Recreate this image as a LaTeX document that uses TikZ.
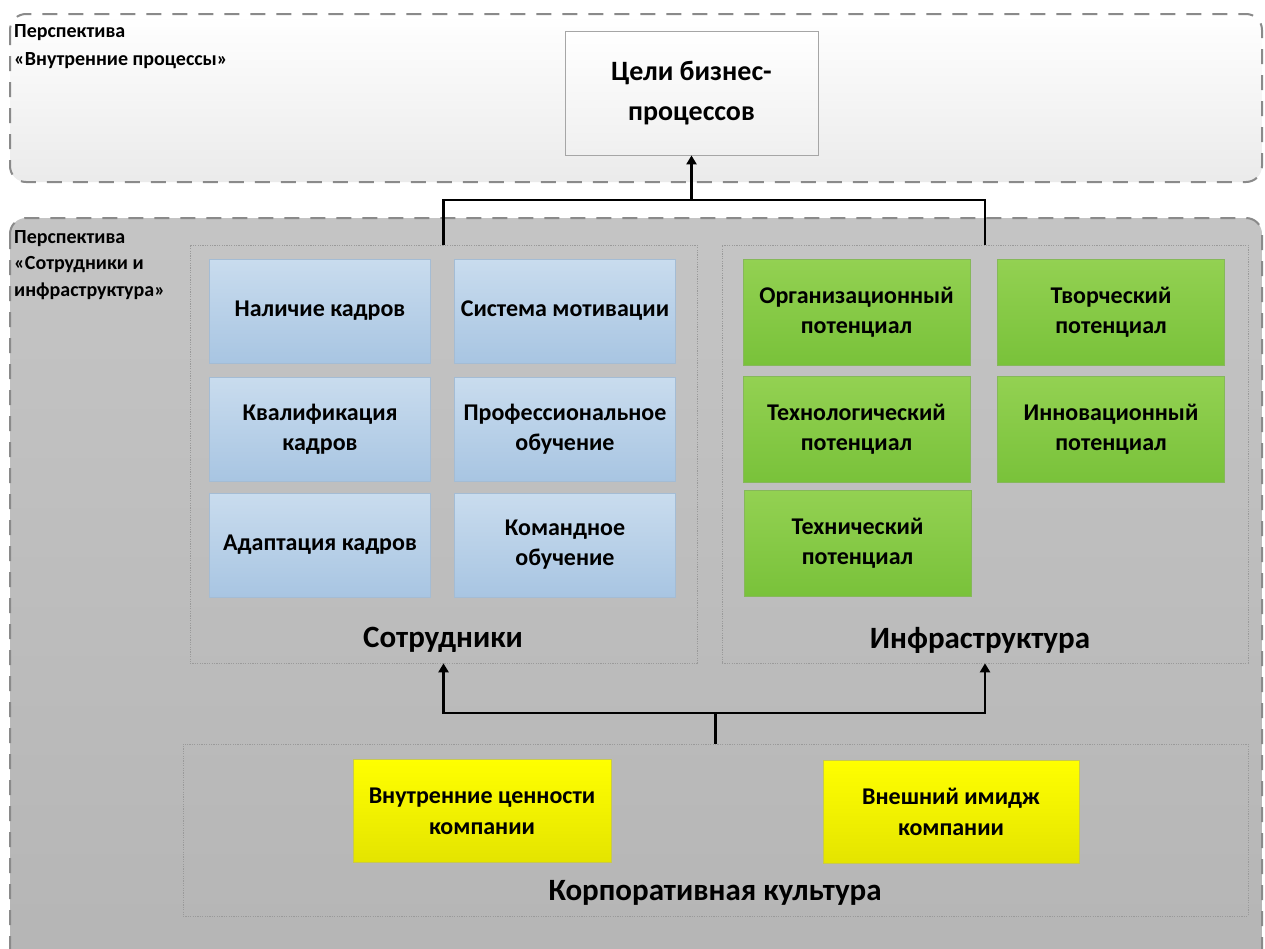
\documentclass[tikz,border=0pt]{standalone}
\usepackage{fontspec}
\setmainfont{Carlito}
\usetikzlibrary{arrows.meta}
\definecolor{panelline}{HTML}{8A8A8A}
\definecolor{frameline}{HTML}{9A9A9A}
\definecolor{bluetop}{HTML}{C9DCEE}
\definecolor{bluebot}{HTML}{A8C5E2}
\definecolor{blueline}{HTML}{A4BCD4}
\definecolor{greentop}{HTML}{93D152}
\definecolor{greenbot}{HTML}{79C23A}
\definecolor{greenline}{HTML}{86B85A}
\definecolor{yeltop}{HTML}{FFFF00}
\definecolor{yelbot}{HTML}{E4E400}
\definecolor{yelline}{HTML}{C8C850}
\begin{document}
\begin{tikzpicture}[x=1pt,y=-1pt,
  panel/.style={draw=panelline,line width=2pt,dash pattern=on 15pt off 11pt,rounded corners=16pt},
  frame/.style={draw=frameline,line width=0.6pt,dash pattern=on 1.2pt off 1.2pt,inner sep=0pt},
  boxtext/.style={align=center,font=\fontsize{24}{30}\selectfont\bfseries,inner sep=2pt},
  bluebox/.style={boxtext,draw=blueline,line width=0.8pt,top color=bluetop,bottom color=bluebot,minimum width=221pt,minimum height=104pt},
  greenbox/.style={boxtext,draw=greenline,line width=0.8pt,top color=greentop,bottom color=greenbot,minimum width=227pt,minimum height=106pt},
  yelbox/.style={boxtext,font=\fontsize{24}{31}\selectfont\bfseries,draw=yelline,line width=0.8pt,top color=yeltop,bottom color=yelbot,minimum width=258pt,minimum height=103pt},
  grouplabel/.style={font=\fontsize{31}{36}\selectfont\bfseries,inner sep=0pt},
  perslabel/.style={font=\fontsize{20}{26.5}\selectfont\bfseries,align=left,anchor=north west,inner sep=0pt},
  conn/.style={line width=2.6pt,line cap=butt},
  arr/.style={conn,-{Triangle[width=10pt,length=9pt]}}]
\clip (0,0) rectangle (1265,948);
\fill[white] (0,0) rectangle (1265,948);
% panels
\draw[panel,top color=white,bottom color=black!8] (10,14) rectangle (1262,182);
\draw[panel,top color=black!23,bottom color=black!29] (10,218) rectangle (1262,975);
\node[perslabel] (ptop) at (14,24) {Перспектива\\[2pt]«Внутренние процессы»};
\node[perslabel] (pbot) at (14,230) {Перспектива\\«Сотрудники и\\инфраструктура»};
% goal
\node[boxtext,draw=black!35,line width=0.8pt,top color=white,bottom color=black!6,minimum width=253pt,minimum height=124pt,font=\fontsize{28}{40}\selectfont\bfseries] (goal) at (691.5,93) {Цели бизнес-\\процессов};
% frames
\node[frame,minimum width=507pt,minimum height=418pt] (staff) at (443.5,454) {};
\node[frame,minimum width=526pt,minimum height=418pt] (infra) at (985,454) {};
\node[frame,minimum width=1065pt,minimum height=172pt] (corp) at (715.5,830) {};
\node[grouplabel] (staffl) at (443,640) {Сотрудники};
\node[grouplabel] (infral) at (980,640) {Инфраструктура};
\node[grouplabel] (corpl) at (715,893) {Корпоративная культура};
% blue boxes
\node[bluebox] (b11) at (320,311) {Наличие кадров};
\node[bluebox] (b12) at (565,311) {Система мотивации};
\node[bluebox] (b21) at (320,429) {Квалификация\\кадров};
\node[bluebox] (b22) at (565,429) {Профессиональное\\обучение};
\node[bluebox] (b31) at (320,545) {Адаптация кадров};
\node[bluebox] (b32) at (565,545) {Командное\\обучение};
% green boxes
\node[greenbox] (g11) at (856.5,312) {Организационный\\потенциал};
\node[greenbox] (g12) at (1111,312) {Творческий\\потенциал};
\node[greenbox] (g21) at (856.5,429.5) {Технологический\\потенциал};
\node[greenbox] (g22) at (1111,429.5) {Инновационный\\потенциал};
\node[greenbox] (g31) at (857.5,543.5) {Технический\\потенциал};
% yellow boxes
\node[yelbox] (y1) at (482,811) {Внутренние ценности\\компании};
\node[yelbox,minimum width=256pt] (y2) at (951,812) {Внешний имидж\\компании};
% connectors
\coordinate (jt) at (691.5,200);
\coordinate (jb) at (715.5,713);
\draw[conn] (staff.north) |- (jt) -| (infra.north);
\draw[arr] (jt) -- (goal.south);
\draw[conn] (corp.north) -- (jb);
\draw[arr] (jb) -| (staff.south);
\draw[arr] (jb) -| (infra.south);
\end{tikzpicture}
\end{document}
